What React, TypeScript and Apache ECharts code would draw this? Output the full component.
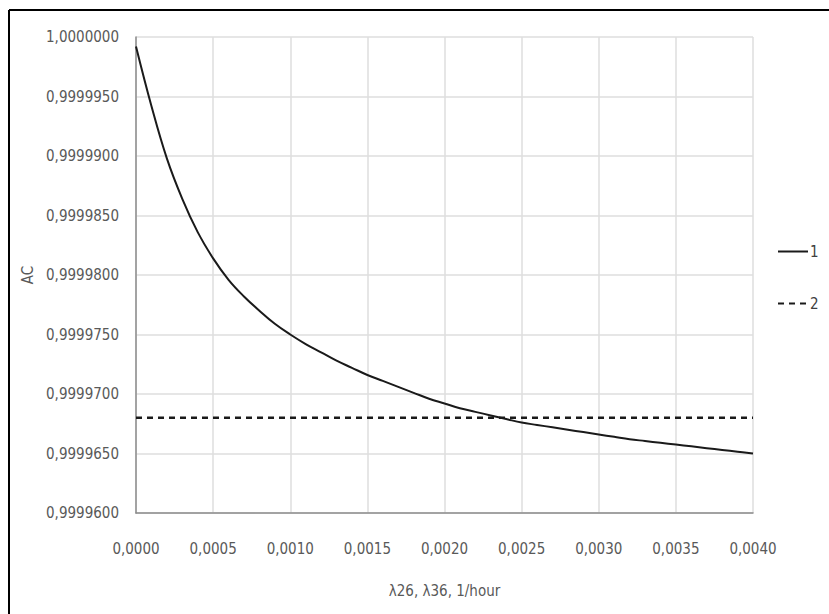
import React, { useEffect, useRef } from "react";
import * as echarts from "echarts";

const xValues1 = [0, 0.0001, 0.0002, 0.0003, 0.0004, 0.0005, 0.0006, 0.0007, 0.0008, 0.0009, 0.001, 0.0011, 0.0012, 0.0013, 0.0014, 0.0015, 0.0016, 0.0017, 0.0018, 0.0019, 0.002, 0.0021, 0.0022, 0.0023, 0.0024, 0.0025, 0.0026, 0.0027, 0.0028, 0.0029, 0.003, 0.0031, 0.0032, 0.0033, 0.0034, 0.0035, 0.0036, 0.0037, 0.0038, 0.0039, 0.004];
const yValues1 = [0.9999992, 0.9999942, 0.9999898, 0.9999864, 0.9999836, 0.9999814, 0.9999796, 0.9999782, 0.999977, 0.9999759, 0.999975, 0.9999742, 0.9999735, 0.9999728, 0.9999722, 0.9999716, 0.9999711, 0.9999706, 0.9999701, 0.9999696, 0.9999692, 0.9999688, 0.9999685, 0.9999682, 0.9999679, 0.9999676, 0.9999674, 0.9999672, 0.999967, 0.9999668, 0.9999666, 0.9999664, 0.9999662, 0.99996605, 0.9999659, 0.99996575, 0.9999656, 0.99996545, 0.9999653, 0.99996515, 0.999965];
const xValues2 = [0, 0.004];
const yValues2 = [0.999968, 0.999968];
const seriesNames = ["1", "2"];
const xAxisTitle = "λ26, λ36, 1/hour";
const yAxisTitle = "AC";

const FONT = "'Liberation Sans Narrow', 'DejaVu Sans Condensed', 'Roboto Condensed', 'Noto Sans', sans-serif";

export default function App() {
  const ref = useRef<HTMLDivElement>(null);
  useEffect(() => {
    if (!ref.current) return;
    const chart = echarts.init(ref.current, undefined, { renderer: "svg" });
    const s1 = xValues1.map((x, i) => [x, yValues1[i]]);
    const s2 = xValues2.map((x, i) => [x, yValues2[i]]);
    chart.setOption({
      animation: false,
      backgroundColor: "#ffffff",
      textStyle: { fontFamily: FONT },
      grid: { left: 136, right: 76, top: 37, bottom: 101, containLabel: false },
      legend: {
        data: seriesNames,
        orient: "vertical",
        left: 772,
        top: 239,
        itemWidth: 30,
        itemHeight: 14,
        itemGap: 37,
        itemStyle: { opacity: 0 },
        textStyle: { fontFamily: FONT, fontSize: 15, color: "#404040", padding: [0, 0, 0, -3] },
      },
      xAxis: {
        type: "value",
        min: 0,
        max: 0.004,
        interval: 0.0005,
        name: xAxisTitle,
        nameLocation: "middle",
        nameGap: 70,
        nameTextStyle: { fontFamily: FONT, fontSize: 15, color: "#595959" },
        axisLine: { show: true, lineStyle: { color: "#8c8c8c", width: 1.5 } },
        axisTick: { show: false },
        axisLabel: {
          margin: 28,
          fontFamily: FONT,
          fontSize: 15,
          color: "#595959",
          formatter: (v: number) => v.toFixed(4).replace(".", ","),
        },
        splitLine: { show: true, lineStyle: { color: "#dedede", width: 1.5 } },
      },
      yAxis: {
        type: "value",
        min: 0.99996,
        max: 1.0,
        interval: 0.000005,
        name: yAxisTitle,
        nameLocation: "middle",
        nameGap: 99,
        nameTextStyle: { fontFamily: FONT, fontSize: 15, color: "#595959" },
        axisLine: { show: true, lineStyle: { color: "#8c8c8c", width: 1.5 } },
        axisTick: { show: false },
        axisLabel: {
          margin: 17,
          fontFamily: FONT,
          fontSize: 15,
          color: "#595959",
          formatter: (v: number) => v.toFixed(7).replace(".", ","),
        },
        splitLine: { show: true, lineStyle: { color: "#dedede", width: 1.5 } },
      },
      series: [
        {
          name: seriesNames[0],
          type: "line",
          data: s1,
          smooth: 0.4,
          symbol: "none",
          lineStyle: { color: "#1a1a1a", width: 2 },
          itemStyle: { color: "#1a1a1a" },
        },
        {
          name: seriesNames[1],
          type: "line",
          data: s2,
          symbol: "none",
          lineStyle: { color: "#1a1a1a", width: 2.5, type: [6, 5] },
          itemStyle: { color: "#1a1a1a" },
        },
      ],
      graphic: [
        { type: "line", shape: { x1: 9, y1: 10, x2: 829, y2: 10 }, style: { stroke: "#000", lineWidth: 2 } },
        { type: "line", shape: { x1: 9, y1: 10, x2: 9, y2: 614 }, style: { stroke: "#000", lineWidth: 2 } },
      ],
    });
    return () => chart.dispose();
  }, []);
  return (
    <div
      ref={ref}
      style={{ position: "fixed", left: 0, top: 0, width: 829, height: 614, background: "#fff" }}
    />
  );
}
